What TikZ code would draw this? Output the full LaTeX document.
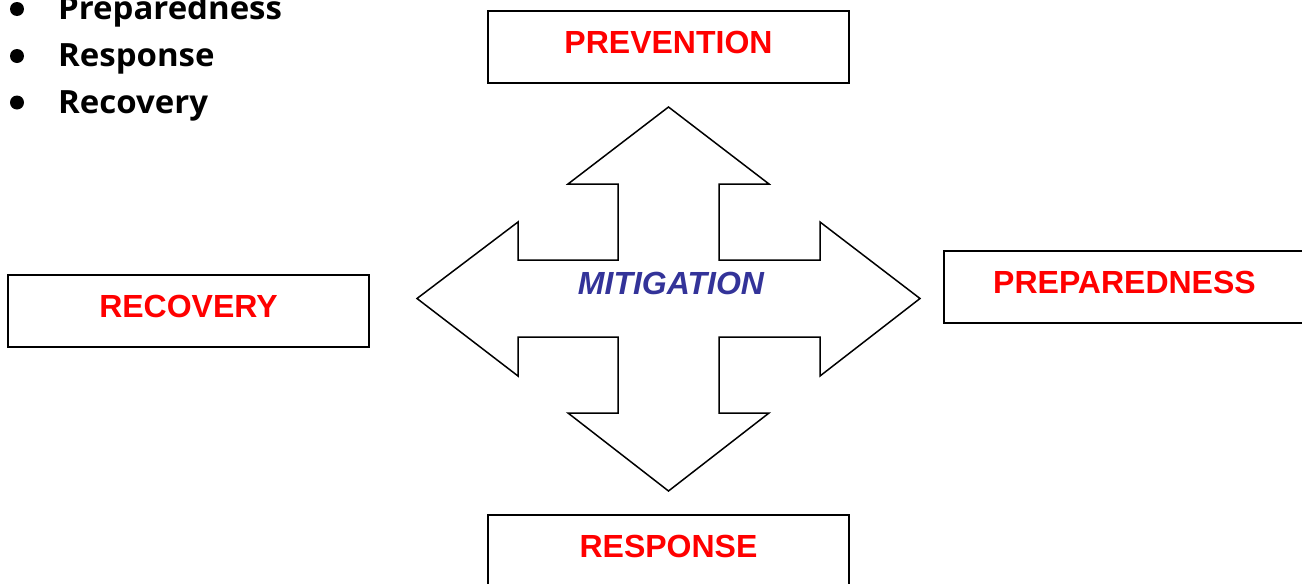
\documentclass[tikz,border=0pt]{standalone}
\usepackage{fontspec}
\setmainfont{Liberation Sans}
\newfontfamily\listfont[FakeStretch=1.03]{Open Sans}
\definecolor{boxred}{RGB}{255,0,0}
\definecolor{mitblue}{RGB}{51,51,153}
\tikzset{
  box/.style={draw=black, line width=2pt, rectangle, minimum width=361pt, minimum height=72pt,
    inner sep=0pt, text height=23pt, text depth=11pt, text=boxred,
    font=\fontsize{32}{38}\selectfont\bfseries},
  listitem/.style={anchor=base west, inner sep=0pt, font=\listfont\fontsize{32}{38}\selectfont\bfseries},
  bulletdot/.style={fill=black, draw=none},
  crossarrow/.style={draw=black, line width=1.5pt, line join=miter, fill=white},
  mitlabel/.style={anchor=base, inner sep=0pt, text=mitblue, font=\fontsize{32}{38}\selectfont\bfseries\itshape}
}
\begin{document}
\begin{tikzpicture}[x=1pt,y=-1pt]
\useasboundingbox (0,0) rectangle (1302,584);
% bullet list
\fill[bulletdot] (17,9) circle (7);
\fill[bulletdot] (17,56) circle (7);
\fill[bulletdot] (17,102.5) circle (7);
\node[listitem] (l1) at (58,19.5) {Preparedness};
\node[listitem] (l2) at (58,66.5) {Response};
\node[listitem] (l3) at (58,113.5) {Recovery};
% boxes
\node[box] (prev) at (668.5,47) {PREVENTION};
\node[box] (reco) at (188.5,311) {RECOVERY};
\node[box] (prep) at (1124.5,287) {PREPAREDNESS};
\node[box] (resp) at (668.5,551) {RESPONSE};
% four-way arrow
\draw[crossarrow] (668.5,107) -- (769,184) -- (719,184) -- (719,260) -- (820,260) -- (820,222)
  -- (920,298.5) -- (820,376) -- (820,337) -- (719,337) -- (719,413) -- (769,413)
  -- (668.5,491) -- (568,413) -- (618,413) -- (618,337) -- (518,337) -- (518,376)
  -- (417,298.5) -- (518,222) -- (518,260) -- (618,260) -- (618,184) -- (568,184) -- cycle;
\node[mitlabel] (mit) at (671,294) {MITIGATION};
\end{tikzpicture}
\end{document}
